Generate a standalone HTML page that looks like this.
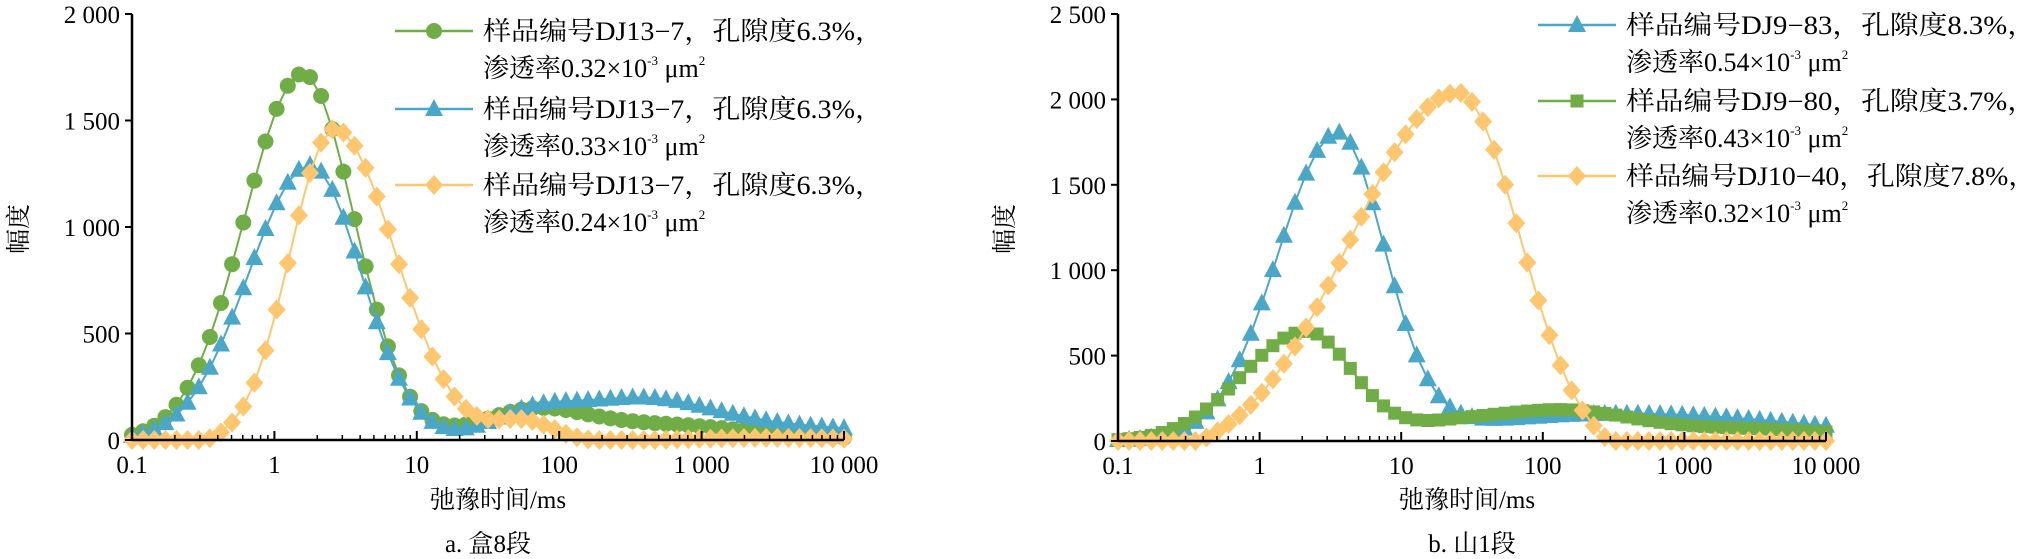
<!DOCTYPE html>
<html><head><meta charset="utf-8"><style>
body{margin:0;background:#fff;}
svg{display:block;font-family:"Liberation Serif","Noto Serif CJK SC","Noto Sans CJK SC",serif;}
</style></head><body>
<svg id="s" width="2028" height="559" xmlns="http://www.w3.org/2000/svg"></svg>
<script>
const S=document.getElementById('s');let h='';
const G='#70ad47',B='#4ba7c7',O='#fdc66f';
function gs(x,a,m,sl,sr){const s=x<m?sl:(sr||sl);return a*Math.exp(-(x-m)*(x-m)/(2*s*s));}
function mk(t,x,y,c){
 x=+x;y=+y;
 if(t=='c')return `<circle cx="${x}" cy="${y}" r="8" fill="${c}"/>`;
 if(t=='t')return `<polygon points="${x},${y-10} ${x-9},${y+7} ${x+9},${y+7}" fill="${c}"/>`;
 if(t=='d')return `<polygon points="${x},${y-10} ${x+9},${y} ${x},${y+10} ${x-9},${y}" fill="${c}"/>`;
 if(t=='s')return `<rect x="${x-6.5}" y="${y-6.5}" width="13" height="13" fill="${c}"/>`;
}
function chart(o){
 const X=l=>o.x0+(l+1)*(o.x1-o.x0)/5, Y=v=>o.y0-v*(o.y0-o.yt)/o.ymax;
 o.series.forEach(se=>{let pts=[],m='';const n=64;
  for(let i=0;i<=n;i++){const l=-1+5*i/n;let v=Math.max(0,se.f(l));const x=+X(l).toFixed(1),y=+Y(v).toFixed(1);pts.push(x+','+y);m+=mk(se.m,x,y,se.c);}
  h+=`<polyline points="${pts.join(' ')}" fill="none" stroke="${se.c}" stroke-width="2"/>`+m;});
 h+=`<line x1="${o.x0}" y1="${o.yt}" x2="${o.x0}" y2="${o.y0}" stroke="#000" stroke-width="2.5"/><line x1="${o.x0}" y1="${o.y0}" x2="${o.x1}" y2="${o.y0}" stroke="#000" stroke-width="2.5"/>`;
 for(let v=0;v<=o.ymax;v+=500){const y=Y(v);h+=`<line x1="${o.x0-7}" y1="${y}" x2="${o.x0}" y2="${y}" stroke="#000" stroke-width="2"/><text x="${o.x0-12}" y="${y+9}" font-size="25" text-anchor="end">${v>=1000?String(v).replace(/(\d)(\d{3})$/,'$1 $2'):v}</text>`;}
 const xl=['0.1','1','10','100','1 000','10 000'];
 for(let d=0;d<=5;d++){const x=o.x0+d*(o.x1-o.x0)/5;h+=`<line x1="${x}" y1="${o.y0}" x2="${x}" y2="${o.y0-9}" stroke="#000" stroke-width="2"/><text x="${x}" y="${o.y0+33}" font-size="25" text-anchor="middle">${xl[d]}</text>`;
  if(d<5)for(let k=2;k<10;k++){const xx=x+Math.log10(k)*(o.x1-o.x0)/5;h+=`<line x1="${xx}" y1="${o.y0}" x2="${xx}" y2="${o.y0-5}" stroke="#000" stroke-width="1.5"/>`;}}
 const cx=(o.x0+o.x1)/2;
 h+=`<text x="${cx-(o.x0>1000?5:-10)}" y="508" font-size="25" text-anchor="middle">弛豫时间/ms</text>`;
 h+=`<text x="${cx}" y="552" font-size="25" text-anchor="middle">${o.cap}</text>`;
 h+=`<text transform="translate(${o.x0-105},229) rotate(-90)" font-size="25" text-anchor="middle">幅度</text>`;
 o.series.forEach((se,i)=>{const y=o.ly[i];
  h+=`<line x1="${o.lx}" y1="${y}" x2="${o.lx+78}" y2="${y}" stroke="${se.c}" stroke-width="2.5"/>`+mk(se.m,o.lx+39,y,se.c);
  h+=`<text x="${o.lx+88}" y="${y+9}" font-size="26" textLength="${o.tw}" lengthAdjust="spacingAndGlyphs">${se.t1}</text>`;
  h+=`<text x="${o.lx+88}" y="${y+46}" font-size="26">${'渗透率'+se.k+'×10<tspan font-size="13" dy="-12">-3</tspan><tspan dy="12"> μm</tspan><tspan font-size="13" dy="-12">2</tspan>'}</text>`;});
}
chart({x0:132,x1:844,y0:440,yt:14,ymax:2000,cap:'a. 盒8段',lx:395,ly:[31,109,185],tw:400,
series:[
{c:G,m:'c',t1:'样品编号DJ13−7，孔隙度6.3%，',k:'0.32',f:l=>gs(l,1720,0.2,0.41,0.36)+gs(l,110,1.8,0.35)+gs(l,75,2.6,0.7)},
{c:B,m:'t',t1:'样品编号DJ13−7，孔隙度6.3%，',k:'0.33',f:l=>gs(l,1290,0.25,0.43,0.36)+gs(l,100,1.8,0.3)+gs(l,170,2.55,0.5)+gs(l,60,3.6,0.8)},
{c:O,m:'d',t1:'样品编号DJ13−7，孔隙度6.3%，',k:'0.24',f:l=>gs(l,1480,0.42,0.31,0.43)+gs(l,100,1.75,0.22)+gs(l,30,3.5,0.9)-20}
]});
chart({x0:1118,x1:1826,y0:441,yt:14,ymax:2500,cap:'b. 山1段',lx:1538,ly:[25,101,176],tw:410,
series:[
{c:B,m:'t',t1:'样品编号DJ9−83，孔隙度8.3%，',k:'0.54',f:l=>gs(l,1760,0.55,0.42,0.33)+gs(l,160,2.6,1.3)},
{c:G,m:'s',t1:'样品编号DJ9−80，孔隙度3.7%，',k:'0.43',f:l=>gs(l,640,0.33,0.45,0.33)+gs(l,70,1.3,0.35)+gs(l,160,2.1,0.5)+gs(l,70,3.4,0.8)},
{c:O,m:'d',t1:'样品编号DJ10−40，孔隙度7.8%，',k:'0.32',f:l=>gs(l,2150,1.4,0.75,0.44)-110}
]});
S.innerHTML=h;
</script>
</body></html>
